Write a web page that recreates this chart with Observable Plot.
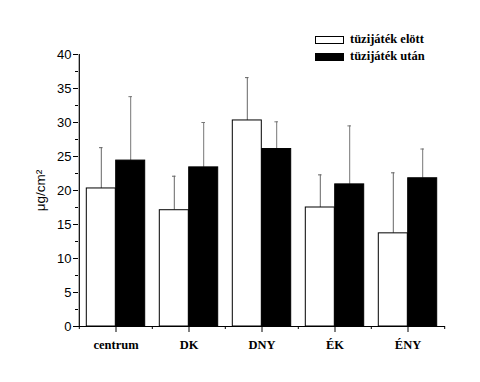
<!DOCTYPE html>
<html><head><meta charset="utf-8">
<script src="https://cdn.jsdelivr.net/npm/d3@7"></script>
<script src="https://cdn.jsdelivr.net/npm/@observablehq/plot@0.6"></script>
<style>
body{margin:0;background:#fff;}
#wrap{position:relative;width:480px;height:382px;}
#legend{position:absolute;left:315px;top:31px;font-family:"Liberation Serif","Times New Roman",serif;font-weight:bold;font-size:12.5px;color:#000;}
#legend .row{display:flex;align-items:center;height:17px;}
#legend .sw{width:29px;height:8px;border:1px solid #000;margin-right:6px;box-sizing:border-box;}
</style></head>
<body><div id="wrap"><div id="legend"></div></div>
<script>
const categories = ["centrum", "DK", "DNY", "ÉK", "ÉNY"];
const series = ["tüzijáték elött", "tüzijáték után"];
const seriesFill = ["white", "black"];
const before = [20.3, 17.1, 30.3, 17.5, 13.7];
const beforeErr = [6.0, 5.0, 6.3, 4.8, 8.9];
const after = [24.4, 23.4, 26.1, 20.9, 21.8];
const afterErr = [9.4, 6.6, 4.0, 8.6, 4.3];
const yTicks = [0, 5, 10, 15, 20, 25, 30, 35, 40];
const yMinor = [2.5, 7.5, 12.5, 17.5, 22.5, 27.5, 32.5, 37.5];

const W = 480, H = 382, mL = 78, mR = 35, mT = 54, mB = 56;
const step = (W - mL - mR) / categories.length;
const half = step / 2;
const barW = 29.4;
const out = half - barW;

const rowsB = categories.map((c, i) => ({cat: c, value: before[i], err: beforeErr[i]}));
const rowsA = categories.map((c, i) => ({cat: c, value: after[i], err: afterErr[i]}));

const chart = Plot.plot({
  width: W, height: H,
  marginLeft: mL, marginRight: mR, marginTop: mT, marginBottom: mB,
  style: {fontFamily: "'Liberation Sans', Arial, sans-serif", fontSize: "13px", background: "white", overflow: "visible"},
  x: {type: "band", domain: categories, padding: 0},
  y: {domain: [0, 40], label: null},
  marks: [
    // error bars
    Plot.ruleX(rowsB, {x: "cat", y1: "value", y2: d => d.value + d.err, dx: -barW / 2, stroke: "#666", strokeWidth: 1}),
    Plot.ruleX(rowsA, {x: "cat", y1: "value", y2: d => d.value + d.err, dx: barW / 2, stroke: "#777", strokeWidth: 1}),
    Plot.tickY(rowsB, {x: "cat", y: d => d.value + d.err, dx: -barW / 2, insetLeft: half - 2, insetRight: half - 2, stroke: "#666"}),
    Plot.tickY(rowsA, {x: "cat", y: d => d.value + d.err, dx: barW / 2, insetLeft: half - 2, insetRight: half - 2, stroke: "#777"}),
    // bars
    Plot.barY(rowsB, {x: "cat", y: "value", fill: seriesFill[0], stroke: "black", strokeWidth: 1, insetLeft: out, insetRight: half}),
    Plot.barY(rowsA, {x: "cat", y: "value", fill: seriesFill[1], stroke: "black", strokeWidth: 1, insetLeft: half, insetRight: out}),
    // y axis
    Plot.ruleX([categories[0]], {x: d => d, y1: 0, y2: 40, dx: -half, stroke: "black", strokeWidth: 1.2}),
    Plot.axisY({ticks: yTicks, tickSize: 5, tickPadding: 2, label: null, stroke: "black"}),
    Plot.axisY({ticks: yMinor, tickSize: 3, tickFormat: () => "", label: null}),
    Plot.text(["μg/cm²"], {frameAnchor: "left", textAnchor: "middle", dx: -38, rotate: -90, fontSize: 13.5}),
    // x axis
    Plot.ruleY([0], {stroke: "black", strokeWidth: 1.2}),
    Plot.axisX({tickSize: 6, tickPadding: 8, label: null, fontFamily: "'Liberation Serif','Times New Roman',serif", fontWeight: "bold", fontSize: 12.5}),
    Plot.axisX({tickSize: 3, tickFormat: () => "", label: null, dx: -half}),
    Plot.axisX({ticks: [categories[categories.length - 1]], tickSize: 3, tickFormat: () => "", label: null, dx: half})
  ]
});
document.getElementById("wrap").prepend(chart);
const lg = document.getElementById("legend");
series.forEach((s, i) => {
  const r = document.createElement("div"); r.className = "row";
  const sw = document.createElement("div"); sw.className = "sw"; sw.style.background = seriesFill[i];
  const t = document.createElement("span"); t.textContent = s;
  r.append(sw, t); lg.append(r);
});
</script></body></html>
